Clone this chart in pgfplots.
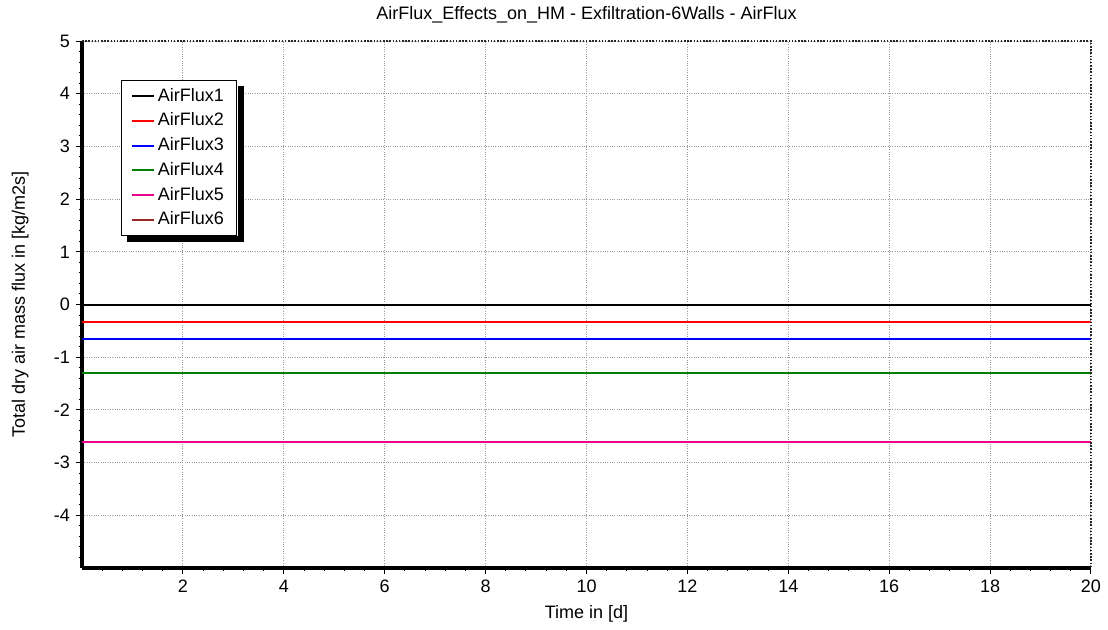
\documentclass[border=0pt]{standalone}
\usepackage{pgfplots}
\pgfplotsset{compat=1.18}
\usepackage{fontspec}
\setmainfont{Liberation Sans}

\definecolor{fluxgreen}{rgb}{0,0.5,0}
\definecolor{fluxbrown}{rgb}{0.6,0.16,0.16}

\begin{document}
\fontsize{10.8}{13}\selectfont
\begin{tikzpicture}
\begin{axis}[
    name=ax,
    scale only axis,
    width=605pt, height=316pt,
    xmin=0, xmax=20, ymin=-5, ymax=5,
    axis x line*=bottom, axis y line*=left,
    x axis line style={line width=2pt},
    y axis line style={line width=2pt},
    tick align=outside,
    major tick length=3.5pt, minor tick length=2pt,
    tick style={black, line width=0.6pt},
    xtick={2,4,...,20},
    xticklabels={2,4,6,8,10,12,14,16,18,20},
    minor xtick={0.4,0.8,1.2,1.6,2.4,2.8,3.2,3.6,4.4,4.8,5.2,5.6,6.4,6.8,7.2,7.6,8.4,8.8,9.2,9.6,10.4,10.8,11.2,11.6,12.4,12.8,13.2,13.6,14.4,14.8,15.2,15.6,16.4,16.8,17.2,17.6,18.4,18.8,19.2,19.6},
    ytick={-4,-3,...,5},
    yticklabels={-4,-3,-2,-1,0,1,2,3,4,5},
    minor ytick={-4.8,-4.6,-4.4,-4.2,-3.8,-3.6,-3.4,-3.2,-2.8,-2.6,-2.4,-2.2,-1.8,-1.6,-1.4,-1.2,-0.8,-0.6,-0.4,-0.2,0.2,0.4,0.6,0.8,1.2,1.4,1.6,1.8,2.2,2.4,2.6,2.8,3.2,3.4,3.6,3.8,4.2,4.4,4.6,4.8},
    grid=major,
    major grid style={densely dotted, gray!80, line width=0.6pt},
    title={AirFlux\_Effects\_on\_HM - Exfiltration-6Walls - AirFlux},
    every axis title/.style={at={(axis description cs:0.5,1.04)}, anchor=base},
    xlabel={Time in [d]},
    xlabel style={at={(axis description cs:0.5,-0.095)}, anchor=base},
    ylabel={Total dry air mass flux in [kg/m2s]},
    ylabel style={at={(axis description cs:-0.0614,0.5)}, anchor=center},
    clip mode=individual,
    legend cell align=left,
    legend image code/.code={\draw[#1,line width=1.2pt] (0pt,0pt) -- (13pt,0pt);},
    legend style={name=leg, at={(axis description cs:0.0387,0.926)}, anchor=north west,
        draw=black, fill=white, line width=0.7pt,
        inner xsep=5.5pt, inner ysep=2.5pt,
        row sep=1.4pt,
        nodes={inner xsep=2pt},
        font=\fontsize{10.8}{13}\selectfont},
]
\addplot[black, line width=1.2pt] coordinates {(0,0) (8.4,0) (16.7,0) (20,0)};
\addplot[red, line width=1.2pt] coordinates {(0,-0.325) (8.4,-0.325) (16.7,-0.325) (20,-0.325)};
\addplot[blue, line width=1.2pt] coordinates {(0,-0.65) (8.4,-0.65) (16.7,-0.65) (20,-0.65)};
\addplot[fluxgreen, line width=1.2pt] coordinates {(0,-1.3) (8.4,-1.3) (16.7,-1.3) (20,-1.3)};
\addplot[magenta, line width=1.2pt] coordinates {(0,-2.6) (8.4,-2.6) (16.7,-2.6) (20,-2.6)};
\addplot[fluxbrown, line width=1.2pt] coordinates {(0,-5.2) (8.4,-5.2) (16.7,-5.2) (20,-5.2)};
\legend{AirFlux1,AirFlux2,AirFlux3,AirFlux4,AirFlux5,AirFlux6}
\draw[densely dotted, black!85, line width=0.9pt] (rel axis cs:0,1) -- (rel axis cs:1,1) -- (rel axis cs:1,0);
\end{axis}
% legend shadow
\fill[black] ([shift={(0.35pt,-3.6pt)}]leg.north east) rectangle ([shift={(3.95pt,-3.6pt)}]leg.south east);
\fill[black] ([shift={(3.6pt,-0.35pt)}]leg.south west) rectangle ([shift={(3.95pt,-3.6pt)}]leg.south east);
\path ([shift={(-49.2pt,-36.6pt)}]ax.south west) rectangle ([shift={(10.2pt,24.6pt)}]ax.north east);
\end{tikzpicture}
\end{document}
